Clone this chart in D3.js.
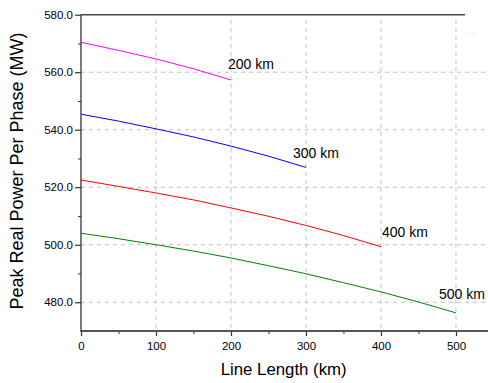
<!DOCTYPE html>
<html><head><meta charset="utf-8">
<script src="https://cdn.jsdelivr.net/npm/d3@7"></script>
<style>body{margin:0;background:#fff;} svg{display:block;font-family:"Liberation Sans",Arial,sans-serif;}</style>
</head><body>
<svg id="c" width="488" height="383"></svg>
<script>
const lengths = [0,50,100,150,200,250,300,350,400,450,500];
const s200 = [570.4,567.6,564.6,561.2,557.3];
const s300 = [545.4,543.0,540.3,537.5,534.3,530.8,526.9];
const s400 = [522.5,520.3,518.0,515.6,512.8,509.9,506.7,503.2,499.3];
const s500 = [504.0,502.1,500.0,497.8,495.4,492.7,489.9,486.8,483.6,480.1,476.3];
const seriesNames = ["200 km","300 km","400 km","500 km"];
const seriesColors = ["#ff00ff","#0000ff","#ff0000","#008000"];
const xTicks = [0,100,200,300,400,500];
const yTicks = [480,500,520,540,560,580];

const svg = d3.select("#c");
const x = d3.scaleLinear().domain([0,542.7]).range([81,488]);
const y = d3.scaleLinear().domain([470,580]).range([331,14.7]);

// grid
const g = svg.append("g").attr("stroke","#c0c0c0").attr("stroke-dasharray","4,4").attr("stroke-width",1);
xTicks.filter(v=>v>0).forEach(v=>g.append("line").attr("x1",x(v)).attr("x2",x(v)).attr("y1",y(580)+5).attr("y2",y(470)));
yTicks.filter(v=>v<580).forEach(v=>g.append("line").attr("x1",x(0)).attr("x2",488).attr("y1",y(v)).attr("y2",y(v)));

// series
const all = [s200,s300,s400,s500];
const line = d3.line().x((d,i)=>x(lengths[i])).y(d=>y(d));
all.forEach((s,k)=>{
  svg.append("path").attr("d",line(s)).attr("fill","none").attr("stroke",seriesColors[k]).attr("stroke-width",1);
});

// labels
const labelPos = [[228,69],[293,158],[382,237],[439,299]];
seriesNames.forEach((n,k)=>{
  svg.append("text").attr("x",labelPos[k][0]).attr("y",labelPos[k][1]).attr("font-size",14).attr("fill","#000").text(n);
});

// axes
const xAxis = d3.axisBottom(x).tickValues(xTicks).tickSize(5).tickFormat(d3.format("d"));
const gx = svg.append("g").attr("transform",`translate(0,${y(470)})`).call(xAxis);
gx.select(".domain").remove();
gx.selectAll(".tick line").attr("stroke","#333").attr("stroke-width",1.2);
gx.selectAll(".tick text").attr("font-size",11.5).attr("font-family","Liberation Sans, Arial").attr("fill","#000").attr("dy","0.95em");
const xMinor = d3.axisBottom(x).tickValues([50,150,250,350,450]).tickSize(3).tickFormat("");
const gxm = svg.append("g").attr("transform",`translate(0,${y(470)})`).call(xMinor);
gxm.select(".domain").remove();
gxm.selectAll(".tick line").attr("stroke","#333");

const yAxis = d3.axisLeft(y).tickValues(yTicks).tickSize(6).tickFormat(d3.format(".1f"));
const gy = svg.append("g").attr("transform",`translate(${x(0)},0)`).call(yAxis);
gy.select(".domain").remove();
gy.selectAll(".tick line").attr("stroke","#333").attr("stroke-width",1.2);
gy.selectAll(".tick text").attr("font-size",11.5).attr("font-family","Liberation Sans, Arial").attr("fill","#000").attr("x",-8);
const yMinor = d3.axisLeft(y).tickValues([490,510,530,550,570]).tickSize(3).tickFormat("");
const gym = svg.append("g").attr("transform",`translate(${x(0)},0)`).call(yMinor);
gym.select(".domain").remove();
gym.selectAll(".tick line").attr("stroke","#333");

// axis lines
svg.append("line").attr("x1",x(0)).attr("x2",488).attr("y1",y(470)).attr("y2",y(470)).attr("stroke","#555").attr("stroke-width",2);
svg.append("line").attr("x1",x(0)).attr("x2",x(0)).attr("y1",y(580)).attr("y2",y(470)+1).attr("stroke","#333").attr("stroke-width",1.3);
svg.append("line").attr("x1",x(0)).attr("x2",465).attr("y1",y(580)).attr("y2",y(580)).attr("stroke","#444").attr("stroke-width",1.5);

// titles
svg.append("text").attr("x",283.7).attr("y",375).attr("text-anchor","middle").attr("font-size",16.8).attr("fill","#000").text("Line Length (km)");
svg.append("text").attr("transform","translate(23,171) rotate(-90)").attr("text-anchor","middle").attr("font-size",18).attr("fill","#000").text("Peak Real Power Per Phase (MW)");

// faint marks top-right
svg.append("text").attr("x",468).attr("y",38).attr("font-size",8).attr("fill","#999").text("` ´");
</script>
</body></html>
